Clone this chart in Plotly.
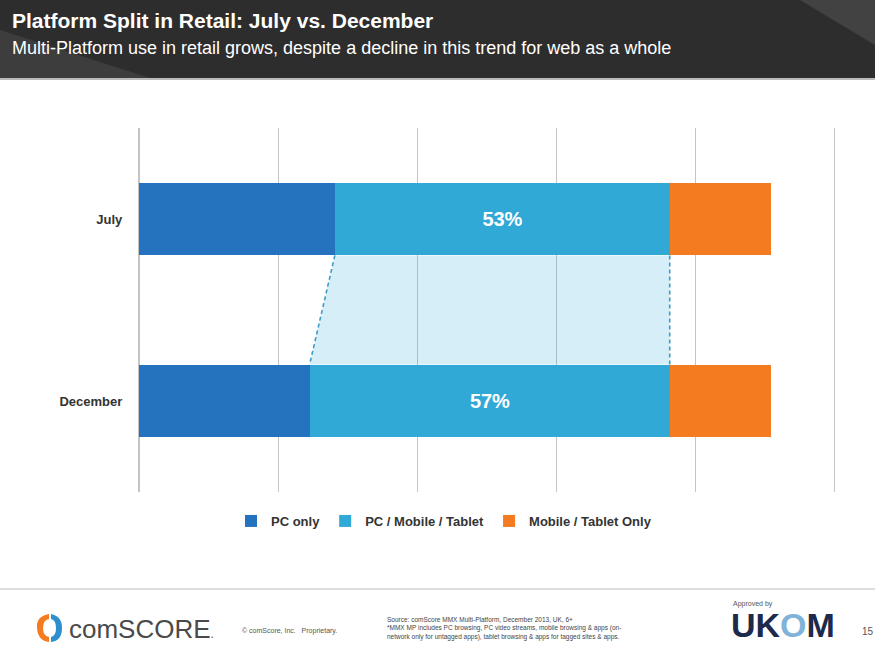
import plotly.graph_objects as go

# ---- data ----
periods = ["July", "December"]
pc_only = [31, 27]
multi_platform = [53, 57]
mobile_tablet_only = [16, 16]
series_names = ["PC only", "PC / Mobile / Tablet", "Mobile / Tablet Only"]
colors = ["#2572BE", "#31A9D7", "#F47B20"]

W, H = 875, 647
L, R, T, B = 139, 834, 128, 492  # plot area in pixels


def px(p):
    return (p - L) / (R - L)


def py(p):
    return (B - p) / (B - T)


ypos = list(range(len(periods)))
bar_w = 0.4

fig = go.Figure()

# connecting trapezoid (derived from data)
left_edge = pc_only
right_edge = [a + b for a, b in zip(pc_only, multi_platform)]
y_top = ypos[0] + bar_w / 2
y_bot = ypos[1] - bar_w / 2
fig.add_trace(go.Scatter(
    x=[left_edge[0], left_edge[1], right_edge[1], right_edge[0], left_edge[0]],
    y=[y_top, y_bot, y_bot, y_top, y_top],
    fill="toself", fillcolor="rgba(49,169,215,0.20)",
    mode="lines", line=dict(width=0, color="rgba(0,0,0,0)"),
    hoverinfo="skip", showlegend=False))
for edge in (left_edge, right_edge):
    fig.add_trace(go.Scatter(
        x=[edge[0], edge[1]], y=[y_top, y_bot], mode="lines",
        line=dict(color="#3E9CC6", width=1.6, dash="4px,3px"),
        hoverinfo="skip", showlegend=False))

for name, vals, col in zip(series_names, [pc_only, multi_platform, mobile_tablet_only], colors):
    is_mid = name == "PC / Mobile / Tablet"
    fig.add_trace(go.Bar(
        y=ypos, x=vals, name=name, orientation="h", width=bar_w,
        marker=dict(color=col, line=dict(width=0)),
        text=[f"{v}%" for v in vals] if is_mid else None,
        textposition="inside" if is_mid else "none",
        insidetextanchor="middle",
        textfont=dict(color="white", size=20, family="Liberation Sans Narrow, Liberation Sans", weight="bold"),
    ))

shapes = []
# header band
shapes.append(dict(type="rect", xref="paper", yref="paper",
                   x0=px(0), x1=px(W), y0=py(78), y1=py(0),
                   fillcolor="#2D2D2D", line=dict(width=0), layer="below"))
shapes.append(dict(type="path", xref="paper", yref="paper",
                   path=f"M {px(0)} {py(78)} L {px(150)} {py(78)} L {px(0)} {py(30)} Z",
                   fillcolor="rgba(255,255,255,0.08)", line=dict(width=0), layer="below"))
shapes.append(dict(type="path", xref="paper", yref="paper",
                   path=f"M {px(800)} {py(0)} L {px(W)} {py(0)} L {px(W)} {py(45)} Z",
                   fillcolor="rgba(255,255,255,0.10)", line=dict(width=0), layer="below"))
shapes.append(dict(type="line", xref="paper", yref="paper",
                   x0=px(0), x1=px(W), y0=py(79), y1=py(79),
                   line=dict(color="#BBBBBB", width=2)))
# footer separator
shapes.append(dict(type="line", xref="paper", yref="paper",
                   x0=px(0), x1=px(W), y0=py(589), y1=py(589),
                   line=dict(color="#DDDDDD", width=2)))
# comScore logo mark
shapes.append(dict(type="path", xref="paper", yref="paper",
                   path=(f"M {px(49)} {py(614)} Q {px(36)} {py(616)} {px(37)} {py(628)} "
                         f"Q {px(38)} {py(641)} {px(49)} {py(642)} L {px(49)} {py(637)} "
                         f"Q {px(43)} {py(636)} {px(43)} {py(628)} Q {px(43)} {py(620)} {px(49)} {py(619)} Z"),
                   fillcolor="#F47B20", line=dict(width=0)))
shapes.append(dict(type="path", xref="paper", yref="paper",
                   path=(f"M {px(51)} {py(614)} Q {px(62)} {py(616)} {px(62)} {py(628)} "
                         f"Q {px(62)} {py(641)} {px(51)} {py(642)} L {px(51)} {py(637)} "
                         f"Q {px(56)} {py(636)} {px(56)} {py(628)} Q {px(56)} {py(620)} {px(51)} {py(619)} Z"),
                   fillcolor="#2E8FCF", line=dict(width=0)))

ann = []
ann.append(dict(text="<b>Platform Split in Retail: July vs. December</b>",
                x=px(10), y=py(21), xref="paper", yref="paper",
                xanchor="left", yanchor="middle", showarrow=False,
                font=dict(size=21, color="white", family="Liberation Sans")))
ann.append(dict(text="Multi-Platform use in retail grows, despite a decline in this trend for web as a whole",
                x=px(10), y=py(48), xref="paper", yref="paper",
                xanchor="left", yanchor="middle", showarrow=False,
                font=dict(size=18, color="white", family="Liberation Sans")))
ann.append(dict(text="comSCORE<span style='font-size:12px'>.</span>",
                x=px(67), y=py(629), xref="paper", yref="paper",
                xanchor="left", yanchor="middle", showarrow=False,
                font=dict(size=26, color="#4A4A4A", family="Liberation Sans")))
ann.append(dict(text="© comScore, Inc.   Proprietary.",
                x=px(240), y=py(631), xref="paper", yref="paper",
                xanchor="left", yanchor="middle", showarrow=False,
                font=dict(size=7, color="#555555", family="Liberation Sans")))
ann.append(dict(text=("Source: comScore MMX Multi-Platform, December 2013, UK, 6+<br>"
                      "*MMX MP includes PC browsing, PC video streams, mobile browsing &amp; apps (on-<br>"
                      "network only for untagged apps), tablet browsing &amp; apps for tagged sites &amp; apps."),
                x=px(385), y=py(628), xref="paper", yref="paper", align="left",
                xanchor="left", yanchor="middle", showarrow=False,
                font=dict(size=6.5, color="#444444", family="Liberation Sans")))
ann.append(dict(text="Approved by",
                x=px(731), y=py(604), xref="paper", yref="paper",
                xanchor="left", yanchor="middle", showarrow=False,
                font=dict(size=7, color="#555555", family="Liberation Sans")))
ann.append(dict(text="<b>UK<span style='color:#7FB3DA'>O</span>M</b>",
                x=px(729), y=py(646), xref="paper", yref="paper",
                xanchor="left", yanchor="bottom", showarrow=False,
                font=dict(size=34, color="#1D2A4C", family="Liberation Sans")))
ann.append(dict(text="15",
                x=px(860), y=py(631), xref="paper", yref="paper",
                xanchor="left", yanchor="middle", showarrow=False,
                font=dict(size=10, color="#555555", family="Liberation Sans")))

fig.update_layout(
    width=W, height=H,
    margin=dict(l=L, r=W - R, t=T, b=H - B, pad=0),
    paper_bgcolor="white", plot_bgcolor="white",
    barmode="stack", bargap=0,
    font=dict(family="Liberation Sans", color="#333333"),
    showlegend=True,
    legend=dict(orientation="h", x=px(444), y=py(521), xanchor="center", yanchor="middle",
                font=dict(size=13, color="#333333", family="Liberation Sans", weight="bold"),
                traceorder="normal", itemwidth=30, bgcolor="rgba(0,0,0,0)"),
    xaxis=dict(range=[0, 110], dtick=22, tick0=0, showticklabels=False,
               showgrid=True, gridcolor="#C4C4C4", gridwidth=1.2,
               zeroline=True, zerolinecolor="#C4C4C4", zerolinewidth=1.2,
               showline=False, fixedrange=True),
    yaxis=dict(range=[1.5, -0.5], tickvals=ypos, ticktext=periods,
               showgrid=False, zeroline=False,
               showline=True, mirror=True, linecolor="#C4C4C4", linewidth=1.2,
               ticks="", ticklabelstandoff=13,
               tickfont=dict(size=13, color="#333333", family="Liberation Sans", weight="bold"),
               fixedrange=True),
    shapes=shapes, annotations=ann,
)

fig.write_html("out.html", config={"displayModeBar": False},
               post_script="document.body.style.margin='0px';document.body.style.overflow='hidden';")
